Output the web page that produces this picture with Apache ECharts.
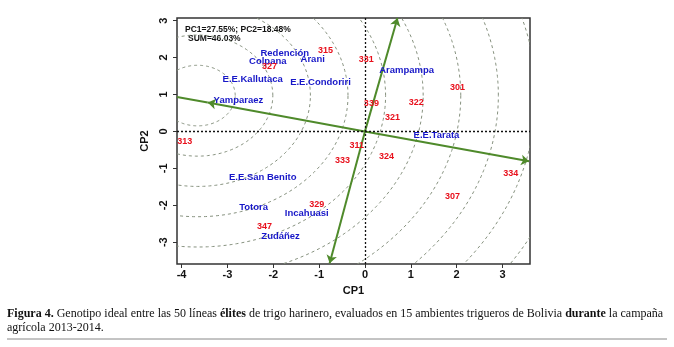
<!DOCTYPE html>
<html><head><meta charset="utf-8">
<script src="https://cdn.jsdelivr.net/npm/echarts@6/dist/echarts.min.js"></script>
<style>html,body{margin:0;padding:0;background:#fff}#c{width:674px;height:347px}</style>
</head><body><div id="c"></div>
<script>
// Environments (blue labels)
const envNames = ['Redención','Arani','Colpana','E.E.Kallutaca','E.E.Condoriri','Yamparaez','Arampampa','E.E.Tarata','E.E.San Benito','Totora','Incahuasi','Zudáñez'];
const envX = [-1.75,-1.14,-2.12,-2.45,-0.97,-2.76,0.91,1.56,-2.23,-2.43,-1.27,-1.84];
const envY = [2.12,1.95,1.90,1.41,1.33,0.85,1.66,-0.10,-1.24,-2.05,-2.21,-2.83];
// Genotypes (red labels)
const genNames = ['315','327','331','301','339','322','321','313','311','333','324','334','307','329','347'];
const genX = [-0.86,-2.08,0.03,2.02,0.14,1.12,0.60,-3.93,-0.18,-0.49,0.47,3.18,1.91,-1.05,-2.19];
const genY = [2.20,1.76,1.95,1.20,0.76,0.77,0.38,-0.27,-0.38,-0.80,-0.67,-1.13,-1.77,-1.97,-2.58];
// Axis vectors
const vecArrowEnds = [[-3.43,0.78],[3.58,-0.81],[0.71,3.07],[-0.77,-3.57]];
const vecPlain = [[[-3.43,0.78],[-4.1,0.93]]];
// Concentric circles around ideal genotype
const circleCenter = [-3.65,0.97];
const circleRadii = [0.82,1.64,2.46,3.28,4.10,4.92,5.74,6.56,7.38,8.20,9.02];
const xTicks = [-4,-3,-2,-1,0,1,2,3];
const yTicks = [-3,-2,-1,0,1,2,3];

const chart = echarts.init(document.getElementById('c'), null, {renderer:'canvas'});
const green = '#4f8a2b';
const lblFont = 'Liberation Sans, Arial, sans-serif';
const serif = 'Liberation Serif, Times New Roman, serif';
chart.setOption({
  animation:false,
  backgroundColor:'#fff',
  grid:{left:177,right:144,top:18,bottom:83,show:true,borderColor:'#333',borderWidth:1.5,backgroundColor:'transparent'},
  xAxis:{type:'value',min:-4.1,max:3.6,splitLine:{show:false},axisLine:{show:false,onZero:false},
    axisTick:{show:true,customValues:xTicks,length:4,lineStyle:{color:'#333'}},
    axisLabel:{customValues:xTicks,fontFamily:lblFont,fontWeight:'bold',fontSize:11,color:'#111',margin:5},
    name:'CP1',nameLocation:'middle',nameGap:21,nameTextStyle:{fontFamily:lblFont,fontWeight:'bold',fontSize:11,color:'#111'}},
  yAxis:{type:'value',min:-3.59,max:3.07,splitLine:{show:false},axisLine:{show:false,onZero:false},
    axisTick:{show:true,customValues:yTicks,length:4,lineStyle:{color:'#333'}},
    axisLabel:{customValues:yTicks,rotate:90,fontFamily:lblFont,fontWeight:'bold',fontSize:11,color:'#111',margin:8},
    name:'CP2',nameLocation:'middle',nameGap:25,nameTextStyle:{fontFamily:lblFont,fontWeight:'bold',fontSize:11,color:'#111'}},
  series:[
    {type:'custom',clip:true,silent:true,z:1,
      data:circleRadii.map(r=>[r,0]),
      renderItem:function(params,api){
        const r=api.value(0);const pts=[];
        for(let i=0;i<=240;i++){const t=i/240*2*Math.PI;pts.push(api.coord([circleCenter[0]+r*Math.cos(t),circleCenter[1]+r*Math.sin(t)]));}
        return {type:'polyline',shape:{points:pts},style:{stroke:'#87927f',lineWidth:1,lineDash:[3,3],fill:null}};
      }},
    {type:'scatter',data:[],silent:true,z:2,
      markLine:{silent:true,symbol:'none',label:{show:false},lineStyle:{color:'#111',type:[2,2],width:1.3},
        data:[{xAxis:0},{yAxis:0}]}},
    {type:'lines',coordinateSystem:'cartesian2d',z:3,silent:true,symbol:['none','arrow'],symbolSize:8,
      lineStyle:{color:green,width:2,opacity:1},
      data:vecArrowEnds.map(p=>({coords:[[0,0],p]}))},
    {type:'lines',coordinateSystem:'cartesian2d',z:3,silent:true,symbol:['none','none'],
      lineStyle:{color:green,width:2,opacity:1},
      data:vecPlain.map(c=>({coords:c}))},
    {type:'scatter',z:5,silent:true,symbolSize:1,itemStyle:{color:'rgba(0,0,0,0)',opacity:1},
      data:envNames.map((n,i)=>({name:n,value:[envX[i],envY[i]]})),
      label:{show:true,position:'inside',formatter:'{b}',color:'#1818c8',opacity:1,fontFamily:lblFont,fontWeight:'bold',fontSize:9.5}},
    {type:'scatter',z:5,silent:true,symbolSize:1,itemStyle:{color:'rgba(0,0,0,0)',opacity:1},
      data:genNames.map((n,i)=>({name:n,value:[genX[i],genY[i]]})),
      label:{show:true,position:'inside',formatter:'{b}',color:'#e8101c',opacity:1,fontFamily:lblFont,fontWeight:'bold',fontSize:9}}
  ],
  graphic:[
    {type:'text',left:185,top:25,style:{text:'PC1=27.55%; PC2=18.48%',fontFamily:lblFont,fontWeight:'bold',fontSize:8.5,fill:'#111'}},
    {type:'text',left:188,top:34,style:{text:'SUM=46.03%',fontFamily:lblFont,fontWeight:'bold',fontSize:8.5,fill:'#111'}},
    {type:'text',left:7,top:308,style:{text:'{b|Figura 4.} Genotipo ideal entre las 50 líneas {b|élites} de trigo harinero, evaluados en 15 ambientes trigueros de Bolivia {b|durante} la campaña',
      fontFamily:serif,fontSize:12,fill:'#111',
      rich:{b:{fontFamily:serif,fontSize:12,fontWeight:'bold',fill:'#111'}}}},
    {type:'text',left:7,top:322,style:{text:'agrícola 2013-2014.',fontFamily:serif,fontSize:12,fill:'#111'}},
    {type:'line',shape:{x1:7,y1:339,x2:667,y2:339},style:{stroke:'#888',lineWidth:1}}
  ]
});
</script></body></html>
